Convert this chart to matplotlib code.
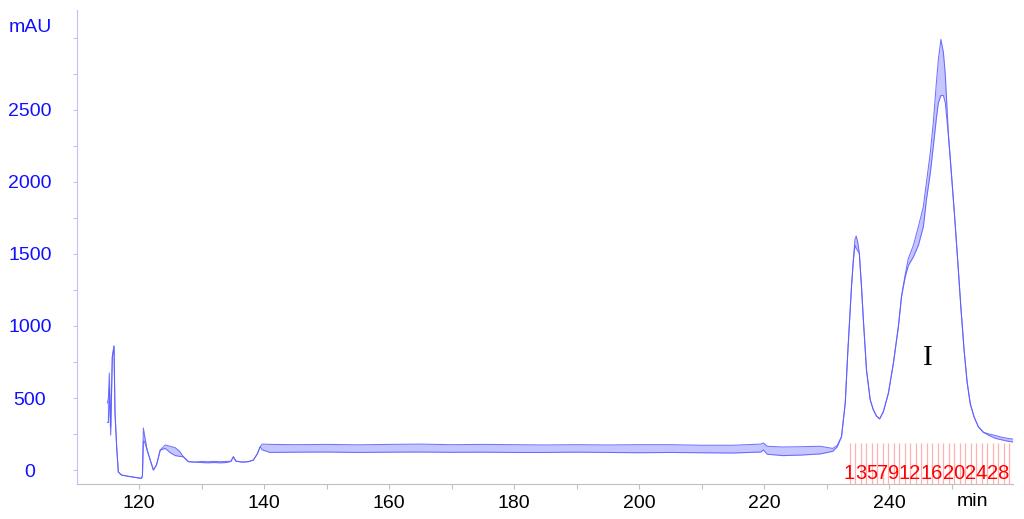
import matplotlib
matplotlib.use("Agg")
import matplotlib.pyplot as plt
from matplotlib.ticker import MultipleLocator, FixedLocator

# ---- data (time in min, absorbance in mAU) ----
time_min = [114.93, 115.1, 115.25, 115.47, 115.73, 116.0, 116.16, 116.43, 116.69,
            117.2, 118.5, 119.5, 120.4, 120.55, 120.7, 120.85, 121.3, 121.8, 122.3,
            122.8, 123.4, 124.2, 125.0, 125.8, 126.5, 127.1, 127.9, 129.0, 130.0,
            131.0, 132.0, 133.0, 134.0, 134.7, 135.1, 135.5, 136.5, 137.5, 138.3,
            138.9, 139.4, 139.7, 141.0, 145.0, 150.0, 155.0, 160.0, 165.0, 170.0,
            175.0, 180.0, 185.0, 190.0, 195.0, 200.0, 205.0, 210.0, 215.0, 219.5,
            219.9, 220.5, 223.0, 226.0, 229.0, 231.0, 231.7, 232.4, 233.0, 233.4,
            234.0, 234.3, 234.55, 234.75, 235.0, 235.25, 235.6, 235.9, 236.4, 237.0,
            237.5, 238.0, 238.5, 239.1, 239.9, 240.7, 241.5, 242.0, 242.6, 243.1,
            243.9, 244.7, 245.5, 246.0, 246.6, 247.1, 247.6, 247.9, 248.3, 248.7,
            249.0, 249.5, 250.0, 250.5, 251.0, 251.5, 252.0, 252.5, 253.0, 253.6,
            254.3, 255.1, 256.0, 257.0, 258.0, 259.0, 259.8]
signal_low = [330, 330, 560, 243, 785, 861, 396, 160, -14,
              -35, -45, -52, -58, -40, 200, 200, 139, 69, 0,
              35, 139, 150, 120, 100, 95, 92, 58, 55, 52,
              50, 52, 50, 52, 60, 92, 62, 55, 58, 69,
              110, 162, 140, 122, 124, 125, 122, 124, 125, 123,
              124, 122, 122, 124, 122, 120, 122, 120, 118, 125,
              140, 110, 100, 104, 112, 130, 160, 231, 465, 812,
              1273, 1458, 1560, 1540, 1520, 1506, 1273, 1042, 694, 486,
              417, 375, 355, 405, 533, 741, 995, 1204, 1342, 1420,
              1480, 1560, 1690, 1880, 2060, 2250, 2450, 2550, 2600, 2600,
              2550, 2330, 2050, 1760, 1450, 1130, 840, 610, 460, 370,
              300, 262, 240, 220, 210, 200, 195]
signal_high = [465, 500, 673, 300, 785, 861, 396, 160, -14,
               -35, -45, -52, -58, -40, 292, 250, 139, 69, 0,
               35, 139, 174, 165, 155, 130, 92, 58, 55, 60,
               58, 60, 58, 60, 60, 92, 62, 55, 58, 69,
               110, 162, 180, 178, 176, 178, 175, 178, 180, 176,
               178, 176, 174, 176, 174, 176, 176, 172, 172, 180,
               188, 165, 160, 162, 165, 150, 170, 231, 465, 812,
               1273, 1458, 1600, 1625, 1580, 1506, 1273, 1042, 694, 486,
               417, 375, 355, 405, 533, 741, 995, 1204, 1360, 1470,
               1560, 1690, 1830, 2000, 2200, 2420, 2700, 2850, 2990, 2900,
               2750, 2330, 2050, 1760, 1450, 1130, 840, 610, 460, 370,
               300, 262, 250, 240, 228, 220, 215]

# fraction collector marks
fraction_start = 233.68
fraction_step = 0.88
fraction_count = 30
fraction_labels = [1, 3, 5, 7, 9, 12, 16, 20, 24, 28]

x_major_ticks = [120, 140, 160, 180, 200, 220, 240]
y_major_ticks = [0, 500, 1000, 1500, 2000, 2500]

FONT = ["Liberation Sans", "DejaVu Sans"]
plt.rcParams["font.family"] = FONT

fig = plt.figure(figsize=(10.24, 5.19), dpi=100)
ax = fig.add_axes([77 / 1024, 35 / 519, (1013 - 77) / 1024, (509 - 35) / 519])

trace_color = "#5a5aff"
ax.fill_between(time_min, signal_low, signal_high, color="#8080ff", alpha=0.45, lw=0)
ax.plot(time_min, signal_low, color=trace_color, lw=0.75, alpha=0.85)
ax.plot(time_min, signal_high, color=trace_color, lw=0.75, alpha=0.85)

ax.set_xlim(110.08, 259.84)
ax.set_ylim(-97, 3194)

# fraction lines and labels
frac_x = [fraction_start + i * fraction_step for i in range(fraction_count)]
ax.vlines(frac_x, -97, 188, color="#ffb0b0", lw=0.9, zorder=1)
for n in fraction_labels:
    ax.text(fraction_start + (n - 1) * fraction_step, -24, str(n), color="#ff0000",
            fontsize=14.5, ha="center", va="center")

# annotation
ax.text(246.2, 778, "I", fontsize=21, ha="center", va="center",
        family=["Liberation Serif", "DejaVu Serif"], color="black")

# axes styling
for s in ["top", "right"]:
    ax.spines[s].set_visible(False)
ax.spines["left"].set_color("#c0c0ff")
ax.spines["bottom"].set_color("#c0c0c0")

ax.xaxis.set_major_locator(FixedLocator(x_major_ticks))
ax.xaxis.set_minor_locator(MultipleLocator(10))
ax.tick_params(axis="x", which="both", direction="out", length=3.6, width=0.8,
               color="#c0c0c0", labelsize=14, labelcolor="black", pad=4)

ax.yaxis.set_major_locator(FixedLocator(y_major_ticks))
ax.yaxis.set_minor_locator(MultipleLocator(250))
ax.tick_params(axis="y", which="both", direction="out", length=3, width=0.8,
               color="#c0c0ff", labelsize=14, labelcolor="#1010ff", pad=31)
for lab in ax.get_yticklabels():
    lab.set_horizontalalignment("center")

fig.text(30 / 1024, 1 - 27 / 519, "mAU", color="#1010ff", fontsize=14,
         ha="center", va="center")
ax.text(253.4, -18 / 474, "min", transform=ax.get_xaxis_transform(), fontsize=14,
        ha="center", va="center", color="black")

fig.savefig("out.png", dpi=100)
